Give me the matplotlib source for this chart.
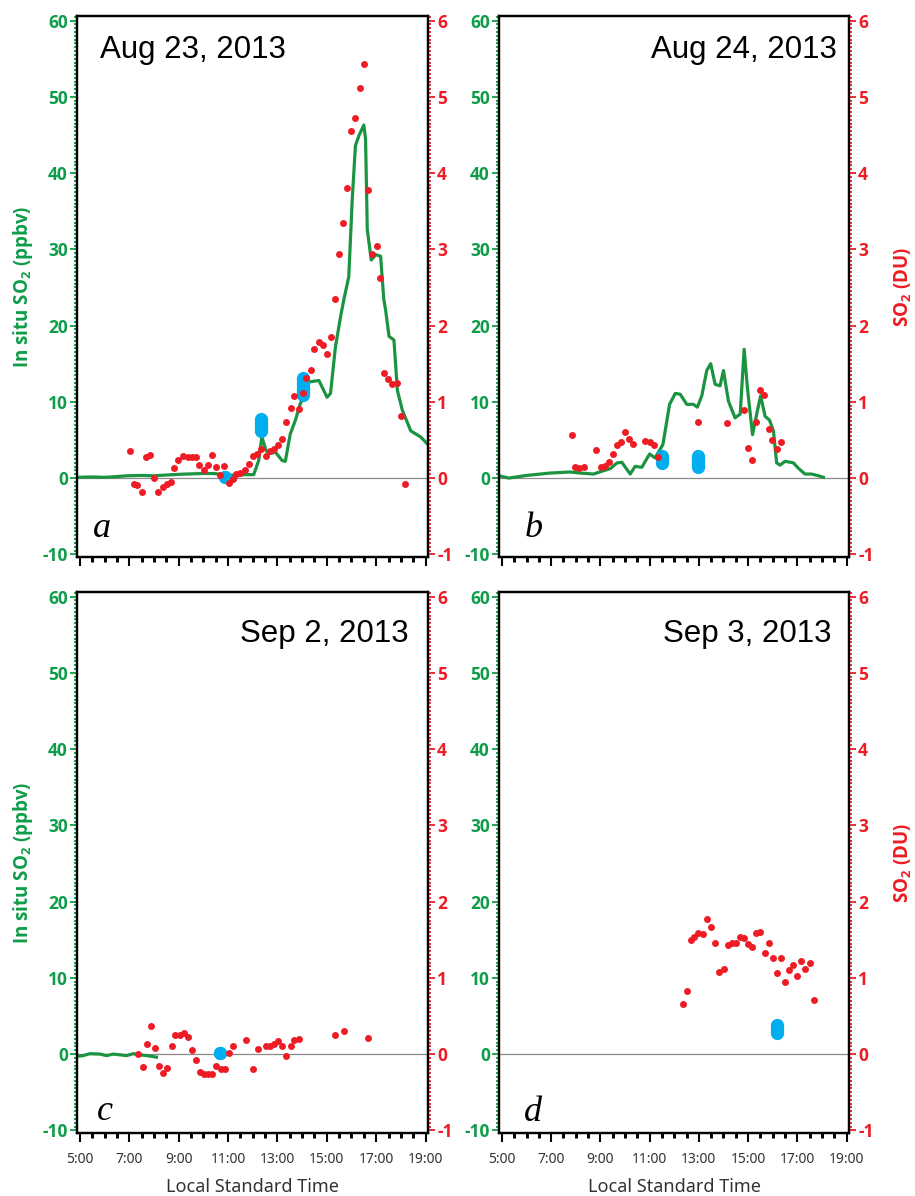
import matplotlib
matplotlib.use("Agg")
import matplotlib.pyplot as plt
from matplotlib.ticker import MultipleLocator, FixedLocator, FuncFormatter

# ---------------- data ----------------
# Aug 23, 2013: in situ SO2 (ppbv) time series
aug23_insitu_t = [4.89, 5.5, 6.0, 6.5, 6.9, 7.5, 8.0, 8.5, 9.06, 9.5, 10.0, 10.41, 10.7,
                  10.95, 11.22, 11.6, 12.04, 12.24, 12.37, 12.54, 12.69, 12.92, 13.19,
                  13.32, 13.52, 13.73, 13.93, 14.07, 14.27, 14.68, 15.01, 15.15, 15.35,
                  15.56, 15.69, 15.89, 16.03, 16.16, 16.30, 16.50, 16.57, 16.64, 16.80,
                  16.98, 17.18, 17.31, 17.38, 17.52, 17.72, 17.86, 18.06, 18.40, 18.80, 19.07]
aug23_insitu_v = [0.1, 0.15, 0.1, 0.2, 0.3, 0.35, 0.3, 0.4, 0.5, 0.55, 0.6, 0.6, 0.5,
                  0.3, 0.4, 0.45, 0.45, 2.3, 5.4, 3.6, 3.2, 3.4, 2.3,
                  2.2, 5.8, 7.6, 9.8, 10.6, 12.6, 12.8, 10.6, 11.1, 17.2,
                  21.2, 23.4, 26.4, 36.5, 43.6, 44.9, 46.3, 44.5, 32.6, 28.6,
                  29.3, 29.1, 23.4, 22.1, 18.6, 18.1, 11.5, 8.9, 6.2, 5.4, 4.5]
# Aug 23, 2013: column SO2 (DU)
aug23_column_t = [7.03, 7.17, 7.33, 7.50, 7.68, 7.84, 8.00, 8.18, 8.36, 8.52, 8.68, 8.83,
                  8.99, 9.17, 9.36, 9.53, 9.71, 9.84, 10.01, 10.17, 10.35, 10.52, 10.68,
                  10.85, 11.02, 11.18, 11.33, 11.50, 11.67, 11.85, 12.00, 12.17, 12.35,
                  12.52, 12.71, 12.88, 13.01, 13.19, 13.35, 13.53, 13.69, 13.86, 14.03,
                  14.17, 14.34, 14.50, 14.68, 14.84, 15.01, 15.19, 15.35, 15.51, 15.66,
                  15.83, 15.99, 16.16, 16.34, 16.50, 16.66, 16.84, 17.02, 17.15, 17.31,
                  17.48, 17.65, 17.83, 17.99, 18.17]
aug23_column_v = [0.35, -0.08, -0.09, -0.18, 0.28, 0.30, 0.0, -0.18, -0.12, -0.08, -0.05, 0.13,
                  0.24, 0.29, 0.27, 0.28, 0.27, 0.17, 0.10, 0.17, 0.30, 0.14, 0.04,
                  0.16, -0.06, -0.01, 0.05, 0.07, 0.11, 0.18, 0.29, 0.31, 0.38,
                  0.29, 0.35, 0.38, 0.44, 0.51, 0.74, 0.92, 1.08, 0.91, 1.11,
                  1.31, 1.42, 1.69, 1.79, 1.74, 1.63, 1.85, 2.35, 2.94, 3.35,
                  3.80, 4.55, 4.72, 5.11, 5.43, 3.78, 2.94, 3.05, 2.63, 1.38,
                  1.30, 1.23, 1.25, 0.81, -0.08]
# Aug 23, 2013: ground-based column SO2 ranges (DU)
aug23_ground_t = [10.89, 12.35, 14.03]
aug23_ground_lo = [0.015, 0.62, 1.09]
aug23_ground_hi = [0.015, 0.78, 1.31]

# Aug 24, 2013
aug24_insitu_t = [4.9, 5.27, 6.01, 6.96, 7.77, 8.18, 8.72, 9.13, 9.40, 9.67, 9.87, 10.21,
                  10.41, 10.68, 11.0, 11.22, 11.54, 11.81, 12.04, 12.24, 12.51, 12.78,
                  12.94, 13.12, 13.32, 13.48, 13.66, 13.86, 14.0, 14.2, 14.47, 14.68,
                  14.84, 14.97, 15.18, 15.35, 15.51, 15.69, 15.87, 16.03, 16.16, 16.30,
                  16.50, 16.84, 17.04, 17.31, 17.58, 17.86, 18.06]
aug24_insitu_v = [0.3, 0.0, 0.35, 0.66, 0.8, 0.66, 0.53, 0.97, 1.23, 1.98, 2.07, 0.53,
                  1.54, 1.41, 3.16, 2.64, 4.4, 9.67, 11.1, 11.0, 9.67, 9.67,
                  9.3, 10.8, 14.1, 15.0, 12.3, 12.1, 14.1, 10.1, 7.9, 8.4,
                  16.9, 11.9, 5.7, 8.4, 10.8, 8.1, 7.6, 6.2, 2.0, 1.7,
                  2.2, 2.0, 1.3, 0.53, 0.53, 0.3, 0.1]
aug24_column_t = [7.84, 7.98, 8.15, 8.34, 8.83, 9.02, 9.17, 9.33, 9.51, 9.67, 9.83, 10.01,
                  10.17, 10.33, 10.82, 11.0, 11.16, 11.33, 12.98, 14.13, 14.84, 14.99,
                  15.16, 15.33, 15.49, 15.66, 15.83, 15.99, 16.16, 16.33]
aug24_column_v = [0.56, 0.15, 0.13, 0.15, 0.37, 0.15, 0.16, 0.21, 0.32, 0.43, 0.47, 0.61,
                  0.51, 0.45, 0.48, 0.47, 0.44, 0.28, 0.73, 0.72, 0.89, 0.40,
                  0.24, 0.73, 1.15, 1.09, 0.65, 0.50, 0.38, 0.47]
aug24_ground_t = [11.49, 12.98]
aug24_ground_lo = [0.195, 0.15]
aug24_ground_hi = [0.285, 0.29]

# Sep 2, 2013
sep02_insitu_t = [4.89, 5.13, 5.4, 5.81, 6.08, 6.35, 6.62, 6.89, 7.16, 7.43, 7.7, 8.1]
sep02_insitu_v = [-0.3, -0.2, 0.05, 0.0, -0.2, 0.0, -0.1, -0.2, 0.05, -0.1, -0.2, -0.4]
sep02_column_t = [7.36, 7.54, 7.70, 7.88, 8.04, 8.21, 8.38, 8.54, 8.71, 8.87, 9.05, 9.21,
                  9.39, 9.54, 9.71, 9.86, 10.02, 10.18, 10.36, 10.52, 10.70, 10.87,
                  11.03, 11.2, 11.71, 12.03, 12.20, 12.52, 12.70, 12.86, 13.03, 13.19,
                  13.36, 13.53, 13.69, 13.87, 15.35, 15.69, 16.68]
sep02_column_v = [0.0, -0.17, 0.13, 0.37, 0.08, -0.15, -0.25, -0.18, 0.11, 0.25, 0.25, 0.27,
                  0.23, 0.05, -0.08, -0.23, -0.26, -0.26, -0.26, -0.15, -0.20, -0.20,
                  0.01, 0.10, 0.18, -0.19, 0.07, 0.11, 0.10, 0.13, 0.17, 0.11,
                  -0.03, 0.11, 0.19, 0.20, 0.25, 0.30, 0.21]
sep02_ground_t = [10.67]
sep02_ground_lo = [0.02]
sep02_ground_hi = [0.02]

# Sep 3, 2013
sep03_insitu_t = []
sep03_insitu_v = []
sep03_column_t = [12.34, 12.51, 12.67, 12.82, 12.98, 13.16, 13.33, 13.51, 13.67, 13.83,
                  14.01, 14.17, 14.33, 14.51, 14.67, 14.83, 15.0, 15.17, 15.33, 15.50,
                  15.67, 15.84, 16.0, 16.16, 16.32, 16.50, 16.66, 16.82, 17.0, 17.16,
                  17.32, 17.50, 17.67]
sep03_column_v = [0.66, 0.83, 1.49, 1.54, 1.59, 1.57, 1.77, 1.67, 1.46, 1.07,
                  1.11, 1.43, 1.46, 1.46, 1.53, 1.52, 1.44, 1.41, 1.59, 1.60,
                  1.33, 1.46, 1.26, 1.06, 1.26, 0.95, 1.10, 1.17, 1.03, 1.22,
                  1.11, 1.20, 0.71]
sep03_ground_t = [16.16]
sep03_ground_lo = [0.27]
sep03_ground_hi = [0.38]

dates = ["Aug 23, 2013", "Aug 24, 2013", "Sep 2, 2013", "Sep 3, 2013"]
letters = ["a", "b", "c", "d"]
xticks_hours = [5, 7, 9, 11, 13, 15, 17, 19]
left_ticks = [-10, 0, 10, 20, 30, 40, 50, 60]
right_ticks = [-1, 0, 1, 2, 3, 4, 5, 6]

# ---------------- style ----------------
GREEN_TXT = "#0e9d48"
GREEN_LINE = "#1b9441"
RED = "#ee1c24"
BLUE = "#00aeef"
GREY_TXT = "#333333"
SANS = "Noto Sans"
BOLD_SANS = "Open Sans"

plt.rcParams["axes.unicode_minus"] = False
plt.rcParams["mathtext.fontset"] = "custom"
plt.rcParams["mathtext.rm"] = BOLD_SANS
plt.rcParams["mathtext.bf"] = BOLD_SANS + ":bold"

fig = plt.figure(figsize=(9.15, 11.96), dpi=100)
W, H = 915.0, 1196.0

panel_px = [  # left, top, right, bottom in pixels
    (77, 16, 428, 557),
    (499, 16, 849, 557),
    (77, 592, 428, 1133),
    (499, 592, 849, 1133),
]

panels = [
    (aug23_insitu_t, aug23_insitu_v, aug23_column_t, aug23_column_v,
     aug23_ground_t, aug23_ground_lo, aug23_ground_hi),
    (aug24_insitu_t, aug24_insitu_v, aug24_column_t, aug24_column_v,
     aug24_ground_t, aug24_ground_lo, aug24_ground_hi),
    (sep02_insitu_t, sep02_insitu_v, sep02_column_t, sep02_column_v,
     sep02_ground_t, sep02_ground_lo, sep02_ground_hi),
    (sep03_insitu_t, sep03_insitu_v, sep03_column_t, sep03_column_v,
     sep03_ground_t, sep03_ground_lo, sep03_ground_hi),
]

date_pos = [(0.066, 0.922, "left"), (0.966, 0.922, "right"),
            (0.946, 0.908, "right"), (0.951, 0.908, "right")]
letter_pos = [(0.046, 0.037), (0.074, 0.037), (0.057, 0.024), (0.072, 0.022)]

YLIM = (-10.35, 60.6)
XLIM = (4.88, 19.1)

for i, (it, iv, ct, cv, gt, glo, ghi) in enumerate(panels):
    l, t, r, b = panel_px[i]
    ax = fig.add_axes([l / W, 1 - b / H, (r - l) / W, (b - t) / H])
    ax2 = ax.twinx()

    ax.set_xlim(*XLIM)
    ax.set_ylim(*YLIM)
    ax2.set_ylim(YLIM[0] / 10.0, YLIM[1] / 10.0)

    ax.axhline(0, color="#8a8a8a", lw=0.9, zorder=1)
    if len(it):
        ax.plot(it, iv, color=GREEN_LINE, lw=2.3, zorder=2, solid_joinstyle="round")

    # ground-based ranges as rounded vertical bars
    for x, lo, hi in zip(gt, glo, ghi):
        ax2.plot([x, x], [lo, hi], color=BLUE, lw=9.5, solid_capstyle="butt", zorder=3)
        ax2.plot([x, x], [lo, hi], linestyle="none", marker="o", ms=9.5,
                 mfc=BLUE, mec="none", zorder=3)

    ax2.plot(ct, cv, linestyle="none", marker="o", ms=5, mfc=RED, mec="none", zorder=4)

    for a in (ax, ax2):
        for s in a.spines.values():
            s.set_linewidth(1.6)
            s.set_color("black")

    # x axis
    ax.xaxis.set_major_locator(FixedLocator(xticks_hours))
    ax.xaxis.set_minor_locator(MultipleLocator(0.5))
    ax.tick_params(axis="x", which="major", direction="out", length=6.5, width=1.5,
                   color="black", pad=7)
    ax.tick_params(axis="x", which="minor", direction="out", length=3.3, width=2.1,
                   color="black")
    if i >= 2:
        ax.xaxis.set_major_formatter(FuncFormatter(lambda v, p: f"{int(round(v))}:00"))
        for lab in ax.get_xticklabels():
            lab.set_fontfamily(SANS)
            lab.set_fontsize(10)
            lab.set_color(GREY_TXT)
        ax.set_xlabel("Local Standard Time", fontfamily=SANS, fontsize=13,
                      color=GREY_TXT, labelpad=8)
    else:
        ax.tick_params(axis="x", labelbottom=False)

    # left axis (ppbv)
    ax.yaxis.set_major_locator(FixedLocator(left_ticks))
    ax.yaxis.set_minor_locator(MultipleLocator(0.5))
    ax.tick_params(axis="y", which="major", direction="out", length=5, width=1.3,
                   color=GREEN_TXT, pad=1.5)
    ax.tick_params(axis="y", which="minor", direction="out", length=2.5, width=1.3,
                   color=GREEN_TXT)
    ax.set_yticklabels([str(v) for v in left_ticks], fontfamily=BOLD_SANS,
                       fontweight="bold", fontsize=12.5, color=GREEN_TXT)

    # right axis (DU)
    ax2.yaxis.set_major_locator(FixedLocator(right_ticks))
    ax2.yaxis.set_minor_locator(MultipleLocator(0.05))
    ax2.tick_params(axis="y", which="major", direction="out", length=5, width=1.3,
                    color=RED, pad=1.5)
    ax2.tick_params(axis="y", which="minor", direction="out", length=2.5, width=1.3,
                    color=RED)
    ax2.set_yticklabels([str(v) for v in right_ticks], fontfamily=BOLD_SANS,
                        fontweight="bold", fontsize=12.5, color=RED)

    dx, dy, ha = date_pos[i]
    ax.text(dx, dy, dates[i], transform=ax.transAxes, ha=ha, va="baseline",
            fontfamily="Liberation Sans", fontsize=22.5, color="black", zorder=5)
    lx, ly = letter_pos[i]
    ax.text(lx, ly, letters[i], transform=ax.transAxes, ha="left", va="baseline",
            fontfamily="Liberation Serif", fontstyle="italic", fontsize=26,
            color="black", zorder=5)

    cy = 1 - (t + b) / 2 / H
    if i % 2 == 0:
        fig.text(23 / W, cy, r"In situ SO$_\mathbf{2}$ (ppbv)", rotation=90,
                 ha="center", va="center", fontfamily=BOLD_SANS, fontweight="bold",
                 fontsize=13.5, color=GREEN_TXT)
    else:
        fig.text(903 / W, cy, r"SO$_\mathbf{2}$ (DU)", rotation=90,
                 ha="center", va="center", fontfamily=BOLD_SANS, fontweight="bold",
                 fontsize=13.5, color=RED)

fig.savefig("out.png", dpi=100, facecolor="white")
